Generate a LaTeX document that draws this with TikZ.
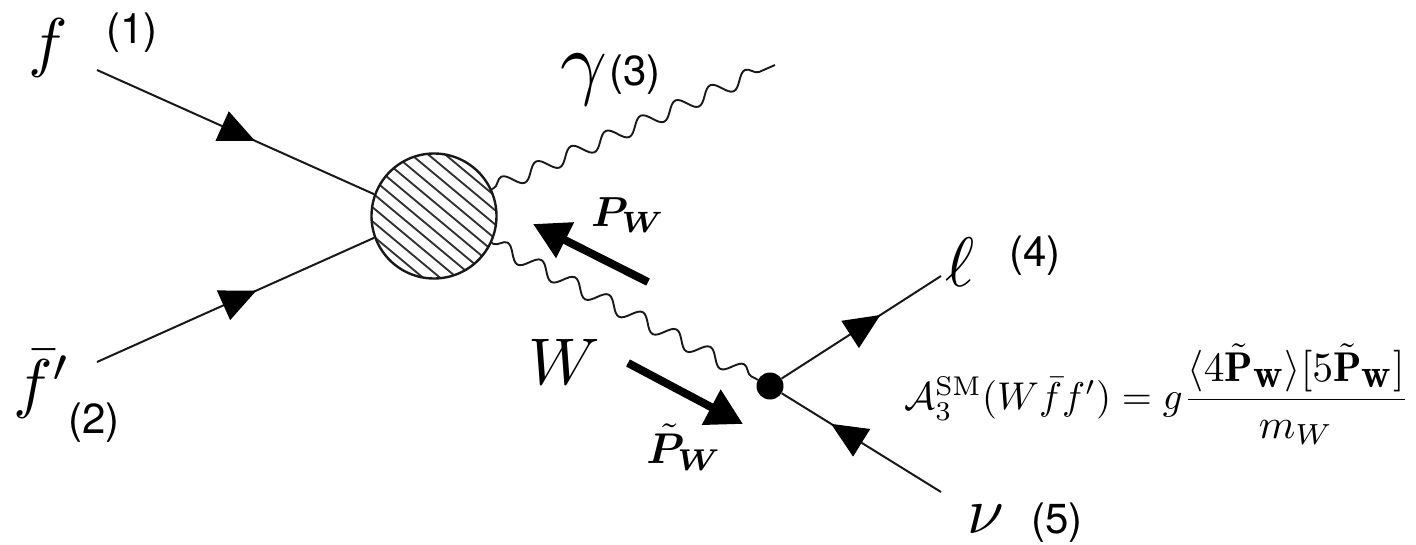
\documentclass[tikz,border=0pt]{standalone}
\usepackage{fontspec}
\usepackage{amsmath,amssymb,bm}
\newfontfamily\lab{TeX Gyre Heros}
\usetikzlibrary{arrows.meta,decorations.pathmorphing,decorations.markings}
\newcommand{\bigw}{\scalebox{1.4}{$\scriptstyle\mathbf{w}$}}
\tikzset{
  x=1pt,y=-1pt,
  fermion/.style={draw=black!90,line width=2pt,postaction={decorate},decoration={markings,mark=at position #1 with {\arrow[black]{Triangle[length=36pt,width=32pt]}}}},
  boson/.style={draw=black!90,line width=1.9pt,decorate,decoration={snake,segment length=38pt,amplitude=7.5pt,pre length=2pt,post length=1pt}},
  momentum/.style={draw=black,line width=8pt,-{Triangle[length=36pt,width=38pt,sep=0pt]},shorten >=0pt},
  numlab/.style={font=\lab\fontsize{42}{45}\selectfont,inner sep=0pt},
  mathlab/.style={inner sep=0pt},
}
\begin{document}
\begin{tikzpicture}
\useasboundingbox (0,0) rectangle (1416,544);
\node[circle,draw=black!90,line width=2.4pt,minimum size=125pt,inner sep=0pt,path picture={
  \foreach \k in {-8,...,8}{
    \draw[black!80,line width=1.9pt] ([shift={(\k*17-120,-100)}]path picture bounding box.center) -- ++(240,200);
  }}] (blob) at (434,216) {};
\node[circle,fill=black,minimum size=27pt,inner sep=0pt] (vtx) at (770,386) {};
\coordinate (fin) at (97,70);
\coordinate (fbin) at (97,362);
\coordinate (gamend) at (775,65);
\coordinate (lend) at (941,276);
\coordinate (nuend) at (941,492);
\coordinate (p1) at (648,282);
\coordinate (p2) at (533,224);
\coordinate (q1) at (628,363);
\coordinate (q2) at (743,424);
\path[fermion=0.57] (fin) -- (blob.160);
\path[fermion=0.575] (fbin) -- (blob.200);
\path[fermion=0.62] (vtx) -- (lend);
\path[fermion=0.69] (nuend) -- (vtx);
\path[boson] (blob.25) -- (gamend);
\path[boson] (blob.-25) -- (vtx);
\draw[momentum] (p1) -- (p2);
\draw[momentum] (q1) -- (q2);
\node[mathlab,scale=6.6] (lf) at (48,48) {$f$};
\node[mathlab,scale=6.6] (lfb) at (42,384) {$\bar f'$};
\node[mathlab,scale=8.2] (lg) at (584,80) {$\gamma$};
\node[mathlab,scale=7] (ll) at (960,262) {$\ell$};
\node[mathlab,scale=6.6] (lnu) at (986,519) {$\nu$};
\node[mathlab,scale=6.6] (lW) at (564,362) {$W$};
\node[mathlab,scale=4.2] (lP) at (628,215) {$\boldsymbol{P_W}$};
\node[mathlab,scale=4.3] (lPt) at (684,447) {$\boldsymbol{\tilde P_W}$};
\node[numlab] (n1) at (132,33) {(1)};
\node[numlab] (n2) at (94,423) {(2)};
\node[numlab] (n3) at (635,75) {(3)};
\node[numlab] (n4) at (1035,256) {(4)};
\node[numlab] (n5) at (1057,523) {(5)};
\node[mathlab,scale=4.16] (amp) at (1157,394) {\scalebox{0.93}{$\mathcal{A}_3^{\mathrm{SM}}(W\bar f f')=g$}$\dfrac{\langle 4\tilde{\mathbf{P}}_{\bigw}\rangle[5\tilde{\mathbf{P}}_{\bigw}]}{m_W}$};
\end{tikzpicture}
\end{document}
